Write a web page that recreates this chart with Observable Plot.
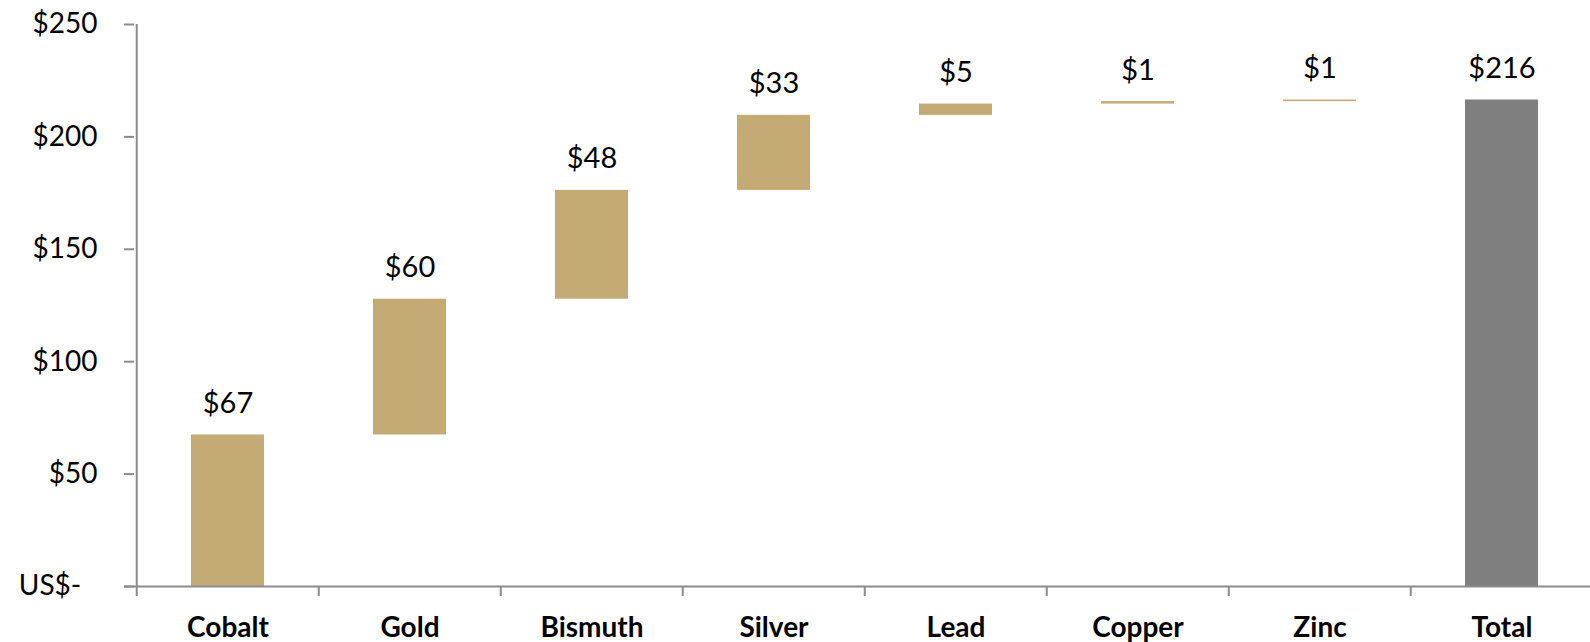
<!DOCTYPE html>
<html>
<head>
<meta charset="utf-8">
<script src="https://cdn.jsdelivr.net/npm/d3@7"></script>
<script src="https://cdn.jsdelivr.net/npm/@observablehq/plot@0.6"></script>
<style>
  html, body { margin: 0; padding: 0; background: #fff; }
  #chart { width: 1590px; height: 642px; overflow: hidden; }
</style>
</head>
<body>
<div id="chart"></div>
<script>
// Contribution of each metal to total value (US$), plus the total column
const metals = ["Cobalt", "Gold", "Bismuth", "Silver", "Lead", "Copper", "Zinc"];
const contributions = [67.4, 60.4, 48.4, 33.4, 5.0, 1.1, 0.7];
const totalName = "Total";
const yTicks = [0, 50, 100, 150, 200, 250];

const metalColor = "#C4AB75";
const totalColor = "#7F7F7F";
const axisColor = "#8C8C8C";

// Waterfall rows: each metal floats from the running sum, the total starts at zero
let running = 0;
const rows = metals.map((name, i) => {
  const start = running;
  running += contributions[i];
  return {name, start, end: running, value: contributions[i], kind: "metal"};
});
rows.push({name: totalName, start: 0, end: running, value: running, kind: "total"});

const categories = rows.map(d => d.name);
const xRange = [134, 1594];
const step = (xRange[1] - xRange[0]) / categories.length;

const money = d3.format(".0f");
const yLabel = v => v === 0 ? "US$-\u2007" : "$" + money(v);

const chart = Plot.plot({
  width: 1590,
  height: 642,
  marginLeft: 134,
  marginRight: 0,
  marginTop: 24,
  marginBottom: 56,
  style: {fontFamily: "Lato, 'Open Sans', sans-serif", background: "#fff", color: "#000", overflow: "visible"},
  x: {domain: categories, range: xRange, paddingInner: 0.6, paddingOuter: 0.3, label: null},
  y: {domain: [0, 250], label: null},
  marks: [
    Plot.barY(rows, {
      x: "name", y1: "start", y2: "end",
      fill: d => d.kind === "total" ? totalColor : metalColor
    }),
    // value axis
    Plot.ruleX([categories[0]], {dx: -step / 2, y1: 0, y2: 250, stroke: axisColor, strokeWidth: 2}),
    Plot.axisY({
      ticks: yTicks, tickSize: 10, tickPadding: 27, tickFormat: yLabel,
      stroke: axisColor, strokeWidth: 2, fill: "#000", fontSize: 28, label: null
    }),
    // category axis: baseline, boundary ticks, bold names
    Plot.ruleY([0], {stroke: axisColor, strokeWidth: 2, insetLeft: -10}),
    Plot.axisX({
      tickSize: 10, dx: -step / 2, tickFormat: () => "",
      stroke: axisColor, strokeWidth: 2, label: null
    }),
    Plot.axisX({
      tickSize: 0, tickPadding: 31, fontSize: 28, fontWeight: "bold",
      fill: "#000", label: null
    }),
    // value labels above each column
    Plot.text(rows, {
      x: "name", y: "end", text: d => "$" + money(d.value),
      lineAnchor: "bottom", dy: -22, fontSize: 29, fill: "#000"
    })
  ]
});

document.getElementById("chart").appendChild(chart);
</script>
</body>
</html>
